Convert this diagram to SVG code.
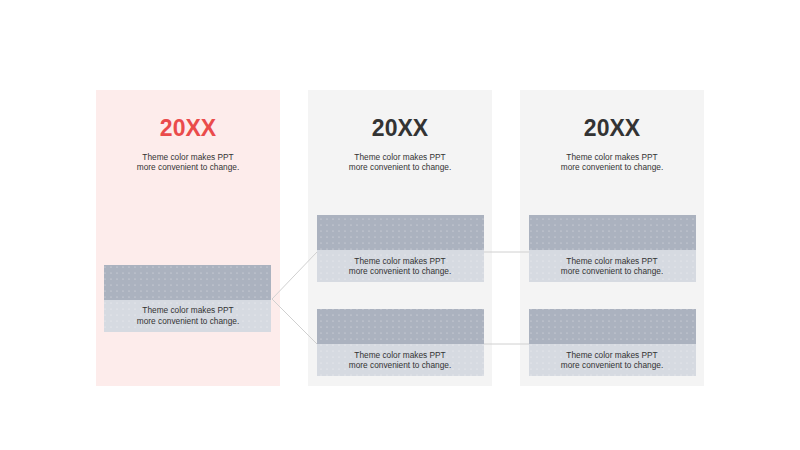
<svg xmlns="http://www.w3.org/2000/svg" width="800" height="450" viewBox="0 0 800 450">
<defs>
<pattern id="dots" width="6" height="6" patternUnits="userSpaceOnUse">
<circle cx="3" cy="3" r="0.6" fill="#ffffff" fill-opacity="0.6"/>
</pattern>
<style>
.title{font-family:"Liberation Sans",Arial,sans-serif;font-size:23px;font-weight:bold;text-anchor:middle}
.desc{font-family:"Liberation Sans",Arial,sans-serif;font-size:8.3px;fill:#333333;text-anchor:middle}
.dark{fill:#abb2bf}
.light{fill:#d6dae1}
.conn{stroke:#d0d0d0;stroke-width:1;fill:none}
</style>
</defs>
<rect width="800" height="450" fill="#ffffff"/>
<g id="panel1">
<rect x="96" y="90" width="184" height="296" fill="#fdeceb"/>
<text class="title" x="188" y="136" fill="#ea4b4b">20XX</text>
<text class="desc" x="188" y="160">Theme color makes PPT</text>
<text class="desc" x="188" y="170">more convenient to change.</text>
</g>
<g id="panel2">
<rect x="308" y="90" width="184" height="296" fill="#f4f4f4"/>
<text class="title" x="400" y="136" fill="#333333">20XX</text>
<text class="desc" x="400" y="160">Theme color makes PPT</text>
<text class="desc" x="400" y="170">more convenient to change.</text>
</g>
<g id="panel3">
<rect x="520" y="90" width="184" height="296" fill="#f4f4f4"/>
<text class="title" x="612" y="136" fill="#333333">20XX</text>
<text class="desc" x="612" y="160">Theme color makes PPT</text>
<text class="desc" x="612" y="170">more convenient to change.</text>
</g>
<g id="connectors">
<polyline class="conn" points="317,252 272,299 317,344"/>
<line class="conn" x1="484" y1="252" x2="529" y2="252"/>
<line class="conn" x1="484" y1="344" x2="529" y2="344"/>
</g>
<g id="box-left">
<rect class="dark" x="104" y="265" width="167" height="35"/>
<rect class="light" x="104" y="300" width="167" height="32"/>
<rect x="104" y="265" width="167" height="67" fill="url(#dots)"/>
<text class="desc" x="188" y="313">Theme color makes PPT</text>
<text class="desc" x="188" y="324">more convenient to change.</text>
</g>
<g id="box-p2-top">
<rect class="dark" x="317" y="215" width="167" height="35"/>
<rect class="light" x="317" y="250" width="167" height="32"/>
<rect x="317" y="215" width="167" height="67" fill="url(#dots)"/>
<text class="desc" x="400" y="264">Theme color makes PPT</text>
<text class="desc" x="400" y="274">more convenient to change.</text>
</g>
<g id="box-p2-bottom">
<rect class="dark" x="317" y="309" width="167" height="35"/>
<rect class="light" x="317" y="344" width="167" height="32"/>
<rect x="317" y="309" width="167" height="67" fill="url(#dots)"/>
<text class="desc" x="400" y="358">Theme color makes PPT</text>
<text class="desc" x="400" y="368">more convenient to change.</text>
</g>
<g id="box-p3-top">
<rect class="dark" x="529" y="215" width="167" height="35"/>
<rect class="light" x="529" y="250" width="167" height="32"/>
<rect x="529" y="215" width="167" height="67" fill="url(#dots)"/>
<text class="desc" x="612" y="264">Theme color makes PPT</text>
<text class="desc" x="612" y="274">more convenient to change.</text>
</g>
<g id="box-p3-bottom">
<rect class="dark" x="529" y="309" width="167" height="35"/>
<rect class="light" x="529" y="344" width="167" height="32"/>
<rect x="529" y="309" width="167" height="67" fill="url(#dots)"/>
<text class="desc" x="612" y="358">Theme color makes PPT</text>
<text class="desc" x="612" y="368">more convenient to change.</text>
</g>
</svg>
